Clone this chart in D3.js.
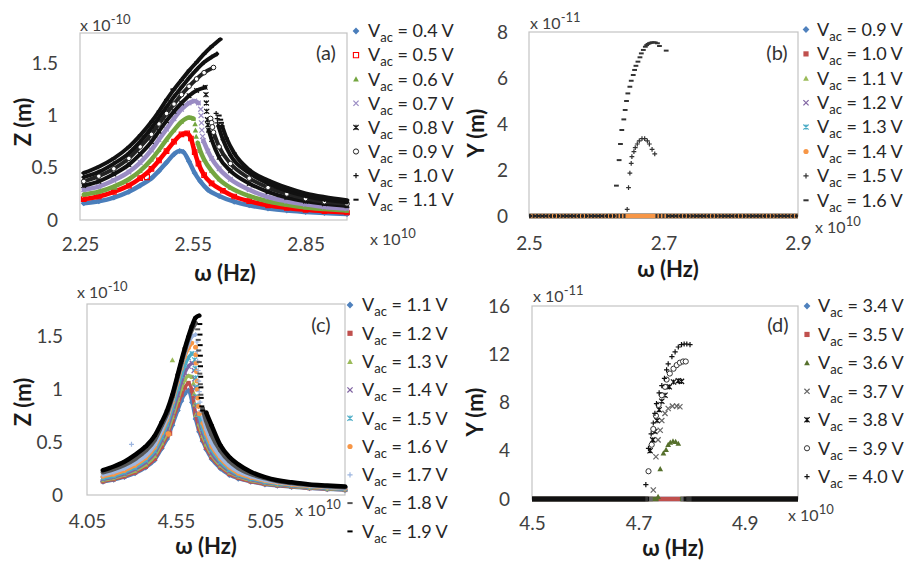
<!DOCTYPE html>
<html><head><meta charset="utf-8">
<script src="https://cdn.jsdelivr.net/npm/d3@7"></script>
<style>
body{margin:0;background:#fff;}
svg{display:block;}
</style></head><body>
<svg id="chart" width="904" height="561"></svg>
<script>
// ================= DATA =================
// ---- Panel (a): Z vs omega (x 1e10 Hz), Z in 1e-10 m
const aVolts = ["0.4","0.5","0.6","0.7","0.8","0.9","1.0","1.1"];
const aXTicks = [2.25, 2.55, 2.85];
const aYTicks = [0, 0.5, 1, 1.5];
const aZ04 = [[2.26,0.16],[2.30,0.18],[2.34,0.215],[2.38,0.27],[2.41,0.33],[2.44,0.40],[2.46,0.47],[2.48,0.55],[2.50,0.63],[2.515,0.66],[2.525,0.65],[2.54,0.56],[2.555,0.45],[2.57,0.37],[2.59,0.29],[2.62,0.23],[2.66,0.175],[2.70,0.14],[2.75,0.11],[2.80,0.09],[2.85,0.077],[2.90,0.066],[2.96,0.057]];
const aZ05 = [[2.26,0.20],[2.30,0.225],[2.34,0.27],[2.38,0.33],[2.41,0.40],[2.44,0.49],[2.46,0.57],[2.48,0.66],[2.50,0.75],[2.52,0.82],[2.535,0.83],[2.545,0.78],[2.555,0.65],[2.565,0.54],[2.58,0.43],[2.60,0.35],[2.63,0.28],[2.66,0.225],[2.70,0.18],[2.75,0.14],[2.80,0.115],[2.85,0.097],[2.90,0.084],[2.96,0.072]];
const aZ06 = [[2.26,0.245],[2.30,0.27],[2.34,0.32],[2.38,0.39],[2.41,0.47],[2.44,0.58],[2.46,0.67],[2.48,0.77],[2.50,0.86],[2.52,0.94],[2.54,0.98],[2.552,0.97],null,[2.563,0.74],[2.57,0.66],[2.58,0.58],[2.60,0.47],[2.62,0.39],[2.65,0.31],[2.70,0.23],[2.75,0.18],[2.80,0.145],[2.85,0.12],[2.90,0.105],[2.96,0.09]];
const aZ07 = [[2.26,0.29],[2.30,0.32],[2.34,0.38],[2.38,0.46],[2.41,0.55],[2.44,0.67],[2.46,0.77],[2.48,0.87],[2.50,0.97],[2.52,1.06],[2.54,1.12],[2.555,1.14],[2.565,1.12],null,[2.578,0.76],[2.59,0.66],[2.60,0.59],[2.62,0.49],[2.65,0.39],[2.70,0.29],[2.75,0.22],[2.80,0.18],[2.85,0.15],[2.90,0.125],[2.96,0.11]];
const aZ08 = [[2.26,0.33],[2.30,0.37],[2.34,0.44],[2.38,0.53],[2.41,0.63],[2.44,0.75],[2.46,0.85],[2.48,0.95],[2.50,1.04],[2.52,1.12],[2.54,1.19],[2.56,1.24],[2.583,1.27],null,[2.592,0.86],[2.60,0.77],[2.62,0.60],[2.65,0.47],[2.70,0.35],[2.75,0.27],[2.80,0.215],[2.85,0.18],[2.90,0.155],[2.96,0.135]];
const aZ09 = [[2.26,0.37],[2.30,0.42],[2.34,0.49],[2.38,0.59],[2.41,0.70],[2.44,0.82],[2.46,0.92],[2.48,1.02],[2.50,1.11],[2.52,1.20],[2.54,1.28],[2.56,1.35],[2.58,1.41],[2.605,1.46],null,[2.605,0.84],[2.62,0.70],[2.65,0.54],[2.70,0.40],[2.75,0.31],[2.80,0.25],[2.85,0.205],[2.90,0.175],[2.96,0.155]];
const aZ10 = [[2.26,0.41],[2.30,0.46],[2.34,0.54],[2.38,0.64],[2.41,0.75],[2.44,0.88],[2.46,0.98],[2.48,1.08],[2.50,1.18],[2.52,1.27],[2.54,1.36],[2.56,1.44],[2.58,1.51],[2.60,1.56],[2.614,1.59],null,[2.618,0.90],[2.63,0.77],[2.65,0.62],[2.70,0.45],[2.75,0.35],[2.80,0.28],[2.85,0.23],[2.90,0.195],[2.96,0.17]];
const aZ11 = [[2.26,0.45],[2.30,0.51],[2.34,0.59],[2.38,0.70],[2.41,0.81],[2.44,0.94],[2.46,1.04],[2.48,1.15],[2.50,1.25],[2.52,1.34],[2.54,1.43],[2.56,1.51],[2.58,1.59],[2.60,1.66],[2.623,1.73],null,[2.628,0.90],[2.64,0.78],[2.66,0.64],[2.70,0.48],[2.75,0.38],[2.80,0.31],[2.85,0.255],[2.90,0.22],[2.96,0.19]];
// isolated points (jump-down region and strays): [series index, omega, Z]
const aJumps = [[2,2.556,0.92],[2,2.557,0.86],[2,2.559,0.80],
  [3,2.571,1.06],[3,2.572,1.00],[3,2.573,0.93],[3,2.574,0.86],[3,2.576,0.80],
  [4,2.585,1.20],[4,2.586,1.12],[4,2.587,1.04],[4,2.589,0.96],[4,2.590,0.91],
  [5,2.597,0.97],[5,2.600,0.93],[5,2.602,0.89],
  [6,2.612,1.02],[6,2.615,0.97],[6,2.616,0.93],
  [7,2.620,1.00],[7,2.624,0.96],[7,2.626,0.93],
  [7,2.497,1.25],[1,2.428,0.41],[2,2.343,0.31]];

// ---- Panel (b): Y vs omega, Y in 1e-11 m
const bVolts = ["0.9","1.0","1.1","1.2","1.3","1.4","1.5","1.6"];
const bXTicks = [2.5, 2.7, 2.9];
const bYTicks = [0, 2, 4, 6, 8];
// omega spans where each series lies on Y = 0
const bZeroSpans = [[[2.5,2.9]],[[2.5,2.9]],[[2.5,2.9]],[[2.5,2.9]],[[2.5,2.9]],[[2.5,2.9]],[[2.5,2.645],[2.688,2.9]],[[2.5,2.629],[2.705,2.9]]];
const bY15 = [[2.646,0.29],[2.648,1.23],[2.650,1.86],[2.652,2.29],[2.653,2.58],[2.656,2.80],[2.658,2.97],[2.661,3.13],[2.664,3.27],[2.668,3.36],[2.672,3.36],[2.676,3.27],[2.679,3.13],[2.683,2.90],[2.687,2.70]];
const bY16 = [[2.630,1.32],[2.634,2.43],[2.636,3.13],[2.638,3.74],[2.641,4.20],[2.643,4.61],[2.645,5.0],[2.647,5.33],[2.650,5.62],[2.652,5.88],[2.655,6.13],[2.657,6.35],[2.659,6.53],[2.662,6.71],[2.665,6.90],[2.667,7.07],[2.670,7.22],[2.673,7.36],[2.675,7.43],[2.677,7.48],[2.679,7.51],[2.681,7.53],[2.683,7.55],[2.686,7.55],[2.688,7.54],[2.691,7.51],[2.694,7.39],[2.704,7.19]];

// ---- Panel (c): Z vs omega (x 1e10 Hz), Z in 1e-10 m
const cVolts = ["1.1","1.2","1.3","1.4","1.5","1.6","1.7","1.8","1.9"];
const cXTicks = [4.05, 4.55, 5.05];
const cYTicks = [0, 0.5, 1, 1.5];
const cOmega = [4.14,4.20,4.26,4.32,4.38,4.43,4.47,4.50,4.53,4.56,4.58,4.60,4.62,4.64,4.66,4.68,4.70,4.72,4.75,4.80,4.85,4.90,4.97,5.05,5.12,5.20,5.30,5.40,5.50];
const cZ11 = [.125,.145,.17,.205,.26,.33,.44,.53,.66,.80,.89,.96,.99,.88,.72,.60,.51,.43,.34,.25,.19,.155,.125,.10,.088,.076,.063,.054,.047];
const cZ12 = [.13,.15,.178,.215,.27,.345,.46,.56,.70,.85,.95,1.02,1.06,.99,.77,.63,.53,.45,.36,.265,.20,.163,.13,.105,.092,.08,.066,.057,.049];
const cZ13 = [.14,.16,.19,.23,.29,.37,.49,.59,.74,.90,1.01,1.09,1.13,1.12,null,.67,.56,.48,.38,.28,.215,.175,.14,.112,.097,.084,.07,.06,.052];
const cZ14 = [.15,.17,.20,.245,.31,.395,.52,.63,.78,.95,1.07,1.16,1.22,1.25,null,.71,.59,.51,.40,.295,.225,.183,.147,.118,.102,.088,.074,.063,.055];
const cZ15 = [.16,.18,.215,.26,.33,.42,.55,.67,.83,1.01,1.13,1.23,1.30,1.34,null,.76,.63,.54,.43,.315,.24,.193,.155,.125,.107,.093,.078,.067,.058];
const cZ16 = [.175,.195,.23,.28,.35,.45,.59,.71,.88,1.07,1.20,1.31,1.39,1.44,null,null,.68,.58,.46,.34,.26,.205,.165,.132,.113,.098,.082,.07,.061];
const cZ17 = [.19,.215,.25,.30,.37,.47,.61,.73,.90,1.09,1.22,1.34,1.43,1.50,1.52,null,.74,.62,.49,.36,.275,.22,.175,.14,.12,.104,.087,.074,.065];
const cZ18 = [.215,.245,.285,.34,.42,.52,.66,.77,.93,1.12,1.25,1.37,1.48,1.57,1.63,null,.82,.70,.57,.42,.32,.255,.20,.16,.133,.114,.096,.083,.073];
const cZ19 = [.235,.27,.315,.38,.46,.56,.69,.80,.95,1.14,1.27,1.39,1.50,1.60,1.68,1.70,null,.78,.66,.47,.36,.29,.22,.17,.14,.12,.10,.09,.08];
const cJumps = [[2,4.648,1.06],[2,4.652,0.96],[2,4.656,0.86],[2,4.662,0.76],
  [3,4.652,1.18],[3,4.655,1.10],[3,4.658,1.02],[3,4.662,0.93],[3,4.666,0.84],[3,4.672,0.77],
  [4,4.655,1.28],[4,4.658,1.20],[4,4.661,1.11],[4,4.664,1.02],[4,4.668,0.93],[4,4.673,0.85],
  [5,4.660,1.40],[5,4.662,1.33],[5,4.664,1.25],[5,4.666,1.17],[5,4.668,1.08],[5,4.670,1.00],[5,4.673,0.92],[5,4.677,0.84],[5,4.682,0.77],
  [6,4.668,1.45],[6,4.670,1.36],[6,4.672,1.27],[6,4.675,1.18],[6,4.678,1.08],[6,4.681,0.98],[6,4.685,0.88],[6,4.690,0.80],
  [7,4.672,1.57],[7,4.675,1.47],[7,4.678,1.37],[7,4.681,1.26],[7,4.684,1.15],[7,4.687,1.05],[7,4.690,0.95],
  [8,4.684,1.62],[8,4.685,1.52],[8,4.686,1.42],[8,4.687,1.32],[8,4.688,1.22],[8,4.689,1.12],[8,4.690,1.02],[8,4.692,0.92],[8,4.695,0.84],[8,4.700,0.80],
  [2,4.53,1.28],[6,4.30,0.48],[5,4.505,0.58],[5,4.51,0.575],[1,4.515,0.585]];

// ---- Panel (d): Y vs omega, Y in 1e-11 m
const dVolts = ["3.4","3.5","3.6","3.7","3.8","3.9","4.0"];
const dXTicks = [4.5, 4.7, 4.9];
const dYTicks = [0, 4, 8, 12, 16];
const dZeroSpans = [[[4.5,5.0]],[[4.5,5.0]],[[4.5,4.738],[4.778,5.0]],[[4.5,4.727],[4.78,5.0]],[[4.5,4.72],[4.785,5.0]],[[4.5,4.718],[4.79,5.0]],[[4.5,4.713],[4.80,5.0]]];
const dY36 = [[4.737,0.2],[4.741,2.5],[4.747,3.8],[4.752,4.1],[4.756,4.5],[4.760,4.7],[4.765,4.8],[4.770,4.75],[4.775,4.6]];
const dY37 = [[4.728,0.75],[4.733,3.5],[4.737,4.9],[4.741,5.7],[4.744,6.5],[4.750,7.1],[4.756,7.5],[4.764,7.7],[4.772,7.7],[4.778,7.65]];
const dY38 = [[4.722,4.0],[4.727,4.9],[4.731,5.6],[4.735,6.5],[4.739,7.4],[4.744,8.1],[4.750,8.6],[4.758,9.3],[4.766,9.7],[4.775,9.8],[4.781,9.75]];
const dY39 = [[4.719,2.3],[4.725,4.5],[4.728,5.8],[4.733,6.9],[4.738,7.8],[4.744,8.6],[4.750,9.3],[4.753,9.9],[4.759,10.4],[4.766,10.8],[4.772,11.1],[4.778,11.3],[4.784,11.4],[4.789,11.4]];
const dY40 = [[4.714,1.2],[4.719,4.2],[4.724,5.4],[4.728,6.3],[4.731,7.1],[4.734,7.9],[4.739,8.8],[4.744,9.4],[4.749,10.0],[4.753,10.7],[4.756,11.2],[4.763,11.8],[4.769,12.2],[4.775,12.6],[4.781,12.8],[4.786,12.85],[4.791,12.85],[4.797,12.8]];

// ================= STYLES =================
const FONT = "Lato, 'Open Sans', 'DejaVu Sans', sans-serif";
const aColors = ["#4a7ebb","#ff0000","#74a640","#9a8cc4","#111","#222","#111","#111"];
const aMarkers = ["diamond","squareOpen","triangle","x","star","circleOpen","plus","dash"];
const bColors = ["#4f81bd","#c0504d","#9bbb59","#8064a2","#4bacc6","#f79646","#333","#333"];
const bMarkers = ["diamond","square","triangle","x","star","circle","plus","dash"];
const cColors = ["#4f81bd","#c0504d","#9bbb59","#8064a2","#4bacc6","#f79646","#9db6e0","#555","#000"];
const cMarkers = ["diamond","square","triangle","x","star","circle","plus","dash","dash"];
const dColors = ["#4f81bd","#c0504d","#56702c","#666","#111","#333","#111"];
const dMarkers = ["diamond","square","triangle","x","star","circleOpen","plus"];

const svg = d3.select("#chart").attr("font-family", FONT);

function markerPath(t, s){
  switch(t){
    case "diamond": return `M0,${-s*1.3}L${s*1.3},0L0,${s*1.3}L${-s*1.3},0Z`;
    case "square": case "squareOpen": return `M${-s},${-s}H${s}V${s}H${-s}Z`;
    case "triangle": return `M0,${-s*1.1}L${s*1.1},${s*0.9}L${-s*1.1},${s*0.9}Z`;
    case "x": return `M${-s},${-s}L${s},${s}M${-s},${s}L${s},${-s}`;
    case "star": return `M${-s},${-s}L${s},${s}M${-s},${s}L${s},${-s}M0,${-s}V${s}`;
    case "circle": case "circleOpen": return `M${s},0A${s},${s} 0 1,1 ${-s},0A${s},${s} 0 1,1 ${s},0`;
    case "plus": return `M${-s},0H${s}M0,${-s}V${s}`;
    case "dash": return `M${-s},0H${s}`;
  }
}
function styleMarker(sel, t, c){
  if (["diamond","square","triangle","circle"].includes(t)) sel.attr("fill", c).attr("stroke","none");
  else if (t==="squareOpen") sel.attr("fill","none").attr("stroke", c).attr("stroke-width",1.1);
  else if (t==="circleOpen") sel.attr("fill","#fff").attr("stroke", c).attr("stroke-width",1);
  else sel.attr("fill","none").attr("stroke", c).attr("stroke-width", t==="dash" ? 2 : 1.2);
}
function plotMarkers(g, pts, x, y, t, c, s){
  const sel = g.append("g").selectAll("path").data(pts.filter(d => d != null)).join("path")
    .attr("transform", d => `translate(${x(d[0])},${y(d[1])})`)
    .attr("d", markerPath(t, s));
  styleMarker(sel, t, c);
}
function plotLine(g, pts, x, y, c, w){
  g.append("path").datum(pts)
    .attr("d", d3.line().defined(d => d != null).x(d => x(d[0])).y(d => y(d[1])).curve(d3.curveMonotoneX))
    .attr("fill","none").attr("stroke", c).attr("stroke-width", w).attr("stroke-linecap","round");
}
function plotZero(g, spans, x, y, c, w, dash){
  g.append("g").selectAll("line").data(spans).join("line")
    .attr("x1", d => x(d[0])).attr("x2", d => x(d[1]))
    .attr("y1", y(0)).attr("y2", y(0))
    .attr("stroke", c).attr("stroke-width", w).attr("stroke-dasharray", dash || null);
}

function makePanel(p){
  const x = d3.scaleLinear().domain(p.xDom).range([p.L, p.R]);
  const y = d3.scaleLinear().domain(p.yDom).range([p.B, p.T]);
  const g = svg.append("g");
  g.append("rect").attr("x", p.L).attr("y", p.T).attr("width", p.R - p.L).attr("height", p.B - p.T)
    .attr("fill","none").attr("stroke","#c3c3c3").attr("stroke-width",1.2);
  const xa = g.append("g").attr("transform", `translate(0,${p.B})`)
    .call(d3.axisBottom(x).tickValues(p.xTicks).tickSize(0).tickPadding(p.xPad).tickFormat(d3.format(p.xFmt)));
  const ya = g.append("g").attr("transform", `translate(${p.L},0)`)
    .call(d3.axisLeft(y).tickValues(p.yTicks).tickSize(0).tickPadding(p.yPad).tickFormat(d => String(d)));
  [xa, ya].forEach(a => {
    a.select(".domain").remove();
    a.attr("font-family", FONT).attr("font-size", 19);
    a.selectAll("text").attr("fill", "#404040");
  });
  // exponent labels
  const t1 = g.append("text").attr("x", p.e1[0]).attr("y", p.e1[1]).attr("font-size", 16).attr("fill","#404040");
  t1.append("tspan").text("x 10");
  t1.append("tspan").attr("font-size", 13).attr("dy", -7).text(p.e1[2]);
  const t2 = g.append("text").attr("x", p.e2[0]).attr("y", p.e2[1]).attr("font-size", 16).attr("fill","#404040");
  t2.append("tspan").text("x 10");
  t2.append("tspan").attr("font-size", 13).attr("dy", -7).text("10");
  // titles
  g.append("text").attr("transform", `translate(${p.yt[0]},${p.yt[1]}) rotate(-90)`)
    .attr("text-anchor","middle").attr("dy","0.35em").attr("font-weight","bold").attr("font-size",22)
    .attr("fill","#1a1a1a").text(p.yTitle);
  g.append("text").attr("x", p.xt[0]).attr("y", p.xt[1]).attr("text-anchor","middle").attr("dy","0.35em")
    .attr("font-weight","bold").attr("font-size",22).attr("fill","#1a1a1a").text("ω (Hz)");
  g.append("text").attr("x", p.lab[0]).attr("y", p.lab[1]).attr("text-anchor","middle").attr("dy","0.35em")
    .attr("font-size",20).attr("fill","#333").text(p.lab[2]);
  return {g, x, y};
}

function legend(volts, colors, markers, mx, tx, y0, dy){
  const g = svg.append("g");
  volts.forEach((v, i) => {
    const yy = y0 + i * dy;
    const m = g.append("path").attr("transform", `translate(${mx},${yy})`).attr("d", markerPath(markers[i], 2.6));
    styleMarker(m, markers[i], colors[i]);
    const t = g.append("text").attr("x", tx).attr("y", yy).attr("dy", "0.35em").attr("font-size", 18).attr("fill", "#262626");
    t.append("tspan").text("V");
    t.append("tspan").attr("font-size", 13).attr("dy", 5).text("ac");
    t.append("tspan").attr("dy", -5).text(` = ${v} V`);
  });
}

// ================= PANEL (a) =================
{
  const P = makePanel({xDom:[2.25,2.96], yDom:[0,1.79], L:80, R:347, T:33, B:220,
    xTicks:aXTicks, yTicks:aYTicks, xFmt:".2f", xPad:18, yPad:22,
    e1:[80,31,"-10"], e2:[370,245], yt:[23,122], xt:[225,273], yTitle:"Z (m)", lab:[326,53,"(a)"]});
  const series = [aZ04, aZ05, aZ06, aZ07, aZ08, aZ09, aZ10, aZ11];
  series.forEach((pts, i) => {
    plotLine(P.g, pts, P.x, P.y, aColors[i], i < 4 ? 4.5 : 4);
    plotMarkers(P.g, pts, P.x, P.y, aMarkers[i], aColors[i], 2.3);
    const js = aJumps.filter(d => d[0] === i).map(d => [d[1], d[2]]);
    plotMarkers(P.g, js, P.x, P.y, aMarkers[i], aColors[i], 2.5);
  });
  legend(aVolts, aColors, aMarkers, 356, 368, 31, 24.1);
}

// ================= PANEL (b) =================
{
  const P = makePanel({xDom:[2.5,2.9], yDom:[0,8], L:529, R:798, T:32, B:216,
    xTicks:bXTicks, yTicks:bYTicks, xFmt:".1f", xPad:21, yPad:21,
    e1:[530,29,"-11"], e2:[815,233], yt:[476,133], xt:[668,269], yTitle:"Y (m)", lab:[777,53,"(b)"]});
  bZeroSpans.forEach((spans, i) => {
    if (i < 6) plotZero(P.g, spans, P.x, P.y, bColors[i], 4.5);
    else if (i === 6) plotZero(P.g, spans, P.x, P.y, bColors[i], 4, "2,1.5");
    else plotZero(P.g, spans, P.x, P.y, "#222", 2.5, "3,1");
  });
  plotMarkers(P.g, bY15, P.x, P.y, "plus", "#333", 2.4);
  plotMarkers(P.g, bY16, P.x, P.y, "dash", "#333", 2.4);
  legend(bVolts, bColors, bMarkers, 806, 817, 29.5, 24.4);
}

// ================= PANEL (c) =================
{
  const P = makePanel({xDom:[4.05,5.50], yDom:[0,1.81], L:87, R:345, T:304, B:495,
    xTicks:cXTicks, yTicks:cYTicks, xFmt:".2f", xPad:20, yPad:24,
    e1:[77,298,"-10"], e2:[295,516], yt:[23,402], xt:[206,546], yTitle:"Z (m)", lab:[321,325,"(c)"]});
  const series = [cZ11, cZ12, cZ13, cZ14, cZ15, cZ16, cZ17, cZ18, cZ19];
  series.forEach((ys, i) => {
    const pts = cOmega.map((w, k) => ys[k] == null ? null : [w, ys[k]]);
    plotLine(P.g, pts, P.x, P.y, cColors[i], i >= 7 ? 4.5 : 3.5);
    plotMarkers(P.g, pts, P.x, P.y, cMarkers[i], cColors[i], 2.3);
    const js = cJumps.filter(d => d[0] === i).map(d => [d[1], d[2]]);
    plotMarkers(P.g, js, P.x, P.y, cMarkers[i], cColors[i], 2.5);
  });
  legend(cVolts, cColors, cMarkers, 350, 362, 305, 28.3);
}

// ================= PANEL (d) =================
{
  const P = makePanel({xDom:[4.5,5.0], yDom:[0,16], L:532, R:798, T:306, B:499,
    xTicks:dXTicks, yTicks:dYTicks, xFmt:".1f", xPad:18, yPad:22,
    e1:[533,302,"-11"], e2:[788,521], yt:[475,412], xt:[673,548], yTitle:"Y (m)", lab:[778,325,"(d)"]});
  dZeroSpans.forEach((spans, i) => {
    plotZero(P.g, spans, P.x, P.y, dColors[i], 4.5);
  });
  const curves = [null, null, dY36, dY37, dY38, dY39, dY40];
  curves.forEach((pts, i) => {
    if (pts) plotMarkers(P.g, pts, P.x, P.y, dMarkers[i], dColors[i], 2.6);
  });
  legend(dVolts, dColors, dMarkers, 807, 818, 306, 28.45);
}
</script>
</body></html>
